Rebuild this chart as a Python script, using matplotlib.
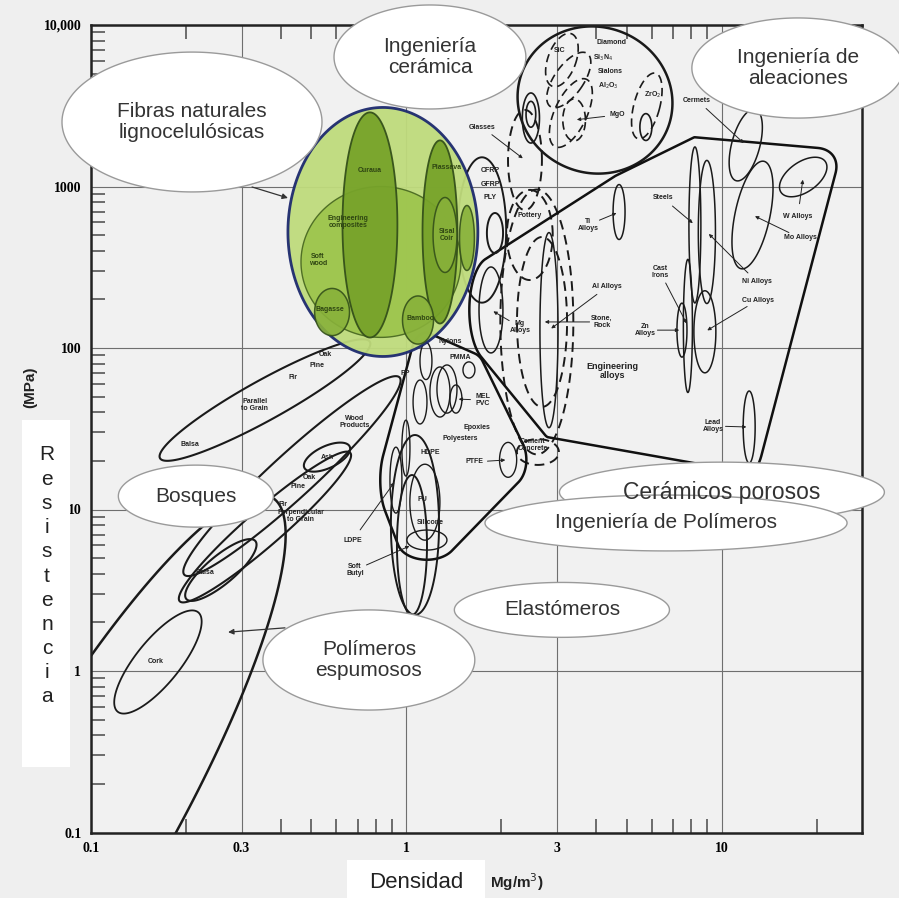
import numpy as np
import matplotlib.pyplot as plt
from matplotlib.patches import Polygon, Rectangle
from matplotlib.ticker import LogLocator, NullFormatter

plt.rcParams['font.family'] = ['Liberation Sans', 'DejaVu Sans']

# axis ranges: density (Mg/m3) and strength (MPa)
XLIM = (0.1, 27.8)
YLIM = (0.1, 10000)
xticks = [0.1, 0.3, 1, 3, 10]
xticklabels = ['0.1', '0.3', '1', '3', '10']
yticks = [0.1, 1, 10, 100, 1000, 10000]
yticklabels = ['0.1', '1', '10', '100', '1000', '10,000']

# bubbles: (density, strength, half-width, half-height, angle)
# half sizes in decades of strength, angle in degrees as drawn
green_outer = (0.842, 523, 0.588, 0.771, 0)
green_mid = [(0.83, 341, 0.495, 0.467, 0)]          # composites, soft wood
green_dark = [(0.766, 578, 0.170, 0.697, 0),        # curaua
              (1.277, 523, 0.108, 0.567, 0)]        # piassava
green_small = [(0.581, 167, 0.108, 0.146, 0),       # bagasse
               (1.088, 149, 0.096, 0.149, 0),       # bamboo
               (1.325, 501, 0.074, 0.232, 0),       # sisal
               (1.555, 480, 0.046, 0.201, 0)]       # coir

ceramic_env = (3.96, 3432, 0.483, 0.452, -20)
ceramic_solid = [(2.48, 2655, 0.053, 0.155, 0), (2.48, 2800, 0.03, 0.08, 0),
                 (5.74, 2334, 0.037, 0.083, 0)]
ceramic_dashed = [(3.11, 6067, 0.087, 0.173, -20), (3.27, 4565, 0.09, 0.20, -35),
                  (3.32, 2851, 0.10, 0.23, -25), (3.40, 2582, 0.07, 0.13, 0),
                  (5.78, 3152, 0.08, 0.21, -15)]
porous_dashed = [(2.375, 1459, 0.105, 0.31, 0), (2.46, 501, 0.142, 0.279, 0),
                 (2.59, 145, 0.226, 0.82, 0), (2.69, 145, 0.155, 0.526, 0),
                 (2.61, 22.7, 0.13, 0.08, 0)]

alloys = {
    'Mg': (1.853, 172, 0.074, 0.266, 0),
    'Al': (2.83, 129, 0.056, 0.604, 0),
    'Ti': (4.72, 695, 0.037, 0.17, 0),
    'Steels': (8.21, 578, 0.037, 0.483, 0),
    'Ni': (8.96, 523, 0.053, 0.443, 0),
    'Cast': (7.80, 137, 0.028, 0.412, 0),
    'Cu': (8.83, 126, 0.068, 0.254, 0),
    'Zn': (7.47, 129, 0.031, 0.167, 0),
    'Mo': (12.5, 666, 0.108, 0.34, -12),
    'W': (18.1, 1145, 0.167, 0.093, 35),
    'Lead': (12.2, 32.4, 0.037, 0.223, 0),
}
cermets = (11.9, 1807, 0.087, 0.229, -15)

polymers = {
    'Nylons': (1.153, 83.1, 0.037, 0.115, 0),
    'PMMA': (1.344, 55.7, 0.062, 0.149, 0),
    'MEL': (1.578, 73.1, 0.037, 0.05, 0),
    'PVC': (1.435, 48.3, 0.037, 0.087, 0),
    'Epoxies': (1.277, 53.4, 0.062, 0.155, 0),
    'PP': (1.104, 46.3, 0.043, 0.136, 0),
    'HDPE': (0.996, 24.0, 0.025, 0.173, 0),
    'PU': (1.144, 11.1, 0.093, 0.235, 0),
    'PTFE': (2.10, 20.3, 0.053, 0.108, 0),
    'Silicone': (1.161, 6.47, 0.124, 0.062, 0),
    'LDPE': (0.926, 15.2, 0.037, 0.204, 0),
}
elastomers = [(1.064, 8.02, 0.149, 0.557, 0), (1.041, 6.03, 0.093, 0.433, 0)]
composites = [(1.735, 538, 0.15, 0.45, 0), (1.908, 515, 0.05, 0.124, 0)]

woods = [(0.356, 47.6, 0.743, 0.124, 29),     # parallel to grain
         (0.356, 7.79, 0.70, 0.111, 41),      # perpendicular to grain
         (0.4335, 16.1, 0.904, 0.136, 42.5),  # wood products
         (0.258, 4.22, 0.279, 0.087, 40),     # balsa
         (0.560, 21.1, 0.155, 0.068, 25)]     # ash
cork = (0.163, 1.137, 0.396, 0.136, 51)
foams = (0.0923, 0.1036, 2.378, 0.526, 60)

# small labels: (text, density, strength, bold)
labels = [
    ('Cork', 0.16, 1.15, 0), ('Balsa', 0.23, 4.1, 0), ('Balsa', 0.206, 25.1, 0),
    ('Parallel\nto Grain', 0.331, 44.4, 0), ('Fir', 0.437, 65.2, 0),
    ('Pine', 0.52, 77.5, 0), ('Oak', 0.552, 90.6, 0),
    ('Wood\nProducts', 0.687, 34.8, 0), ('Ash', 0.56, 21.1, 0),
    ('Oak', 0.494, 15.7, 0), ('Pine', 0.453, 13.8, 0), ('Fir', 0.406, 10.8, 0),
    ('Perpendicular\nto Grain', 0.463, 9.1, 0),
    ('LDPE', 0.676, 6.47, 0), ('Soft\nButyl', 0.687, 4.22, 0),
    ('Nylons', 1.374, 109, 0), ('PMMA', 1.477, 87.9, 0), ('PP', 0.989, 70.0, 0),
    ('MEL\nPVC', 1.748, 47.6, 0), ('Epoxies', 1.673, 32.4, 0),
    ('Polyesters', 1.477, 27.7, 0), ('HDPE', 1.187, 22.4, 0), ('PU', 1.12, 11.5, 0),
    ('PTFE', 1.649, 19.7, 0), ('Silicone', 1.187, 8.25, 0),
    ('Cement\nConcrete', 2.52, 25.1, 0), ('Mg\nAlloys', 2.29, 135, 0),
    ('Al Alloys', 4.32, 239, 0), ('Stone,\nRock', 4.17, 145, 0),
    ('Engineering\nalloys', 4.51, 72.1, 1), ('Ti\nAlloys', 3.76, 578, 0),
    ('Steels', 6.5, 849, 0), ('Cast\nIrons', 6.36, 296, 0), ('Zn\nAlloys', 5.70, 129, 0),
    ('Ni Alloys', 12.9, 257, 0), ('Cu Alloys', 13.0, 198, 0),
    ('W Alloys', 17.4, 656, 0), ('Mo Alloys', 17.7, 480, 0),
    ('Lead\nAlloys', 9.37, 32.9, 0), ('Cermets', 8.33, 3432, 0),
    ('Glasses', 1.735, 2333, 0), ('Pottery', 2.46, 666, 0),
    ('SiC', 3.07, 6995, 0), ('Diamond', 4.48, 7739, 0),
    ('Si$_3$N$_4$', 4.20, 6247, 0), ('Sialons', 4.42, 5117, 0),
    ('Al$_2$O$_3$', 4.35, 4192, 0), ('ZrO$_2$', 6.04, 3686, 0), ('MgO', 4.65, 2772, 0),
    ('CFRP', 1.84, 1265, 0), ('GFRP', 1.84, 1022, 0), ('PLY', 1.84, 849, 0),
]
green_labels = [('Curaua', 0.766, 1265), ('Piassava', 1.344, 1302),
                ('Engineering\ncomposites', 0.653, 603), ('Soft\nwood', 0.524, 351),
                ('Bagasse', 0.572, 172), ('Bamboo', 1.104, 153), ('Sisal\nCoir', 1.344, 501)]

# leader arrows from a label to a bubble
leaders = [((3.76, 578), alloys['Ti']), ((6.5, 849), alloys['Steels']),
           ((6.36, 296), alloys['Cast']), ((5.70, 129), alloys['Zn']),
           ((12.9, 257), alloys['Ni']), ((13.0, 198), alloys['Cu']),
           ((17.4, 656), alloys['W']), ((17.7, 480), alloys['Mo']),
           ((9.37, 32.9), alloys['Lead']), ((4.32, 239), alloys['Al']),
           ((4.17, 145), porous_dashed[3]), ((2.29, 135), alloys['Mg']),
           ((1.735, 2333), porous_dashed[0]), ((4.65, 2772), ceramic_dashed[3]),
           ((8.33, 3432), cermets), ((0.676, 6.47), polymers['LDPE']),
           ((1.649, 19.7), polymers['PTFE']), ((1.748, 47.6), polymers['PVC']),
           ((0.687, 4.22), elastomers[1])]

# callout bubbles: (text, density, strength, half-width, half-height, fontsize)
callouts = [
    ('Fibras naturales\nlignocelulósicas', 0.209, 2508, 0.805, 0.433, 15),
    ('Ingeniería\ncerámica', 1.187, 6338, 0.594, 0.322, 15),
    ('Ingeniería de\naleaciones', 17.4, 5416, 0.656, 0.31, 15),
    ('Bosques', 0.215, 12.1, 0.48, 0.192, 15),
    ('Cerámicos porosos', 10.0, 12.8, 1.006, 0.186, 16.5),
    ('Ingeniería de Polímeros', 6.65, 8.25, 1.121, 0.173, 15),
    ('Elastómeros', 3.11, 2.39, 0.666, 0.170, 15),
    ('Polímeros\nespumosos', 0.760, 1.17, 0.656, 0.31, 15),
]
pointers = [((0.324, 993), (0.421, 849)), ((0.412, 1.85), (0.272, 1.74))]

fig = plt.figure(figsize=(8.99, 8.98), dpi=100, facecolor='#efefef')
pos = [91 / 899, 1 - 832.5 / 898, 771 / 899, 807.5 / 898]
ax = fig.add_axes(pos)
ax.set_facecolor('#f1f1f1')
ax.set_xscale('log')
ax.set_yscale('log')
ax.set_xlim(*XLIM)
ax.set_ylim(*YLIM)

# visual width of one density decade, in strength decades
R = (pos[2] * 899 / np.log10(XLIM[1] / XLIM[0])) / (pos[3] * 898 / np.log10(YLIM[1] / YLIM[0]))


def ell_vis(x, y, a, b, ang=0, n=200):
    t = np.linspace(0, 2 * np.pi, n)
    c, s = np.cos(np.radians(ang)), np.sin(np.radians(ang))
    u, v = a * np.cos(t), b * np.sin(t)
    return np.log10(x) * R + u * c - v * s, np.log10(y) + u * s + v * c


def to_data(X, Y):
    return np.column_stack([10 ** (np.asarray(X) / R), 10 ** np.asarray(Y)])


def bubble(e, fc='none', ec='#1a1a1a', lw=1.1, ls='-', z=3, alpha=1, clip=True):
    X, Y = ell_vis(*e)
    p = Polygon(to_data(X, Y), closed=True, fc=fc, ec=ec, lw=lw, ls=ls,
                zorder=z, alpha=alpha, clip_on=clip)
    ax.add_patch(p)
    return p


def envelope(members, margin, **kw):
    pts = []
    for x, y, a, b, ang in members:
        X, Y = ell_vis(x, y, a + margin, b + margin, ang, 120)
        pts += list(zip(np.round(X, 5), np.round(Y, 5)))
    pts = sorted(set(pts))

    def cross(o, p, q):
        return (p[0] - o[0]) * (q[1] - o[1]) - (p[1] - o[1]) * (q[0] - o[0])
    lower, upper = [], []
    for p in pts:
        while len(lower) >= 2 and cross(lower[-2], lower[-1], p) <= 0:
            lower.pop()
        lower.append(p)
    for p in reversed(pts):
        while len(upper) >= 2 and cross(upper[-2], upper[-1], p) <= 0:
            upper.pop()
        upper.append(p)
    h = np.array(lower[:-1] + upper[:-1])
    ax.add_patch(Polygon(to_data(h[:, 0], h[:, 1]), closed=True, fc='none',
                         ec='#111111', **kw))


# grid
ax.grid(which='major', color='#6f6f6f', lw=0.8, zorder=0.5)
ax.set_axisbelow(True)

# woods, cork and foams
bubble(foams, lw=1.8)
for w in woods:
    bubble(w, lw=1.5)
bubble(cork, lw=1.3)

# ceramics
bubble(ceramic_env, lw=1.8)
for e in ceramic_solid:
    bubble(e, lw=1.2)
for e in ceramic_dashed:
    bubble(e, lw=1.2, ls=(0, (5, 3)))
for e in porous_dashed:
    bubble(e, lw=1.4, ls=(0, (5, 3)))

# metals
envelope(list(alloys.values()), 0.06, lw=1.8, zorder=3)
for e in alloys.values():
    bubble(e, lw=1.1)
bubble(cermets, lw=1.1)

# polymers and elastomers
envelope(list(polymers.values()), 0.06, lw=1.8, zorder=3)
for e in polymers.values():
    bubble(e, lw=1.0)
for e in elastomers:
    bubble(e, lw=1.4)
for e in composites:
    bubble(e, lw=1.4)

# natural fibres group
bubble(green_outer, fc='#bfdb7c', ec='#1d2a6e', lw=2.0, z=4, alpha=0.95)
for e in green_mid:
    bubble(e, fc='#9ec54e', ec='#4a6a22', lw=1.0, z=4, alpha=0.95)
for e in green_dark:
    bubble(e, fc='#77a32a', ec='#34501a', lw=1.3, z=4, alpha=0.95)
for e in green_small:
    bubble(e, fc='#88b13a', ec='#34501a', lw=1.1, z=4, alpha=0.9)

for t, x, y, b in labels:
    ax.text(x, y, t, fontsize=6.5 if b else 5, fontweight='bold', color='#222222',
            ha='center', va='center', linespacing=0.95, zorder=5)
for t, x, y in green_labels:
    ax.text(x, y, t, fontsize=5, fontweight='bold', color='#2e4512',
            ha='center', va='center', linespacing=0.95, zorder=5)
for (lx, ly), e in leaders:
    ax.annotate('', xy=(e[0], e[1]), xytext=(lx, ly),
                arrowprops=dict(arrowstyle='-|>', lw=0.7, color='#222222',
                                mutation_scale=5, shrinkA=9, shrinkB=2), zorder=5)
for s, e in pointers:
    ax.annotate('', xy=e, xytext=s, annotation_clip=False,
                arrowprops=dict(arrowstyle='-|>', lw=0.9, color='#333333',
                                mutation_scale=8, shrinkA=0, shrinkB=0), zorder=5)

for t, x, y, a, b, fs in callouts:
    bubble((x, y, a, b, 0), fc='white', ec='#9a9a9a', lw=1.0, z=8, clip=False)
    ax.text(x, y, t, fontsize=fs, color='#333333', ha='center', va='center',
            linespacing=1.15, zorder=9, clip_on=False)

# axes frame and ticks
for sp in ax.spines.values():
    sp.set_linewidth(1.8)
    sp.set_color('#222222')
    sp.set_zorder(6)
ax.set_xticks(xticks)
ax.set_xticklabels(xticklabels)
ax.set_yticks(yticks)
ax.set_yticklabels(yticklabels)
ax.xaxis.set_minor_locator(LogLocator(base=10, subs=np.arange(2, 10)))
ax.yaxis.set_minor_locator(LogLocator(base=10, subs=np.arange(2, 10), numticks=20))
ax.xaxis.set_minor_formatter(NullFormatter())
ax.yaxis.set_minor_formatter(NullFormatter())
ax.tick_params(which='major', length=0, pad=7)
ax.tick_params(which='minor', direction='in', length=10, width=1.2, color='#555555',
               top=True, right=False)
for lab in ax.get_xticklabels() + ax.get_yticklabels():
    lab.set_fontfamily('Liberation Serif')
    lab.set_fontweight('bold')
    lab.set_fontsize(10)

# axis titles
fig.add_artist(Rectangle((22 / 899, 1 - 767 / 898), 48 / 899, 347 / 898,
                         transform=fig.transFigure, fc='white', ec='none'))
fig.add_artist(Rectangle((347 / 899, 0), 138 / 899, 38 / 898,
                         transform=fig.transFigure, fc='white', ec='none'))
for i, ch in enumerate('Resistencia'):
    fig.text(47 / 899, 1 - (455 + 24.2 * i) / 898, ch, fontsize=15, color='#222222',
             ha='center', va='center')
fig.text(30 / 899, 1 - 387 / 898, '(MPa)', rotation=90, fontsize=11, fontweight='bold',
         color='#222222', ha='center', va='center')
fig.text(416 / 899, 1 - 883 / 898, 'Densidad', fontsize=16, color='#222222',
         ha='center', va='center')
fig.text(517 / 899, 1 - 882 / 898, 'Mg/m$^{3}$)', fontsize=11, fontweight='bold',
         color='#222222', ha='center', va='center')

fig.savefig('out.png', dpi=100, facecolor=fig.get_facecolor())
